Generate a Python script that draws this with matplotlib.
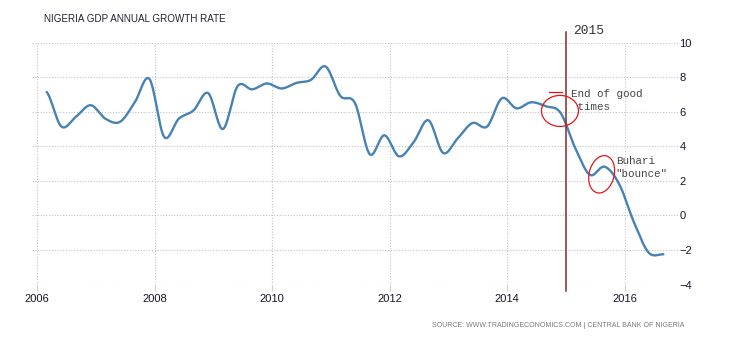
import numpy as np
import pandas as pd
import matplotlib
matplotlib.use("Agg")
import matplotlib.pyplot as plt
from matplotlib.patches import Ellipse
from matplotlib.transforms import ScaledTranslation

# Quarterly GDP growth, % y/y
quarters = pd.period_range("2006Q1", "2016Q3", freq="Q")
growth = [
    7.15, 5.15, 5.72, 6.38,
    5.60, 5.42, 6.55, 7.90,
    4.55, 5.60, 6.08, 7.08,
    5.00, 7.48, 7.30, 7.64,
    7.35, 7.67, 7.85, 8.62,
    6.92, 6.50, 3.55, 4.64,
    3.42, 4.25, 5.51, 3.62,
    4.47, 5.35, 5.15, 6.78,
    6.20, 6.55, 6.32, 5.94,
    3.90, 2.35, 2.82, 1.80,
    -0.40, -2.15, -2.25,
]
year_ticks = [2006, 2008, 2010, 2012, 2014, 2016]
value_ticks = [-4, -2, 0, 2, 4, 6, 8, 10]
marker_year = 2015

# each quarter sits in its middle month
xq = np.asarray(quarters.year + (quarters.quarter - 1) / 4 + 0.16, dtype=float)
yq = np.asarray(growth, dtype=float)


def spline(x, y, steps=24):
    # Catmull-Rom curve through every point, flat ends
    px = np.concatenate([[2 * x[0] - x[1]], x, [2 * x[-1] - x[-2]]])
    py = np.concatenate([[y[0]], y, [y[-1]]])
    t = np.linspace(0, 1, steps, endpoint=False)
    h00 = 2 * t**3 - 3 * t**2 + 1
    h10 = t**3 - 2 * t**2 + t
    h01 = -2 * t**3 + 3 * t**2
    h11 = t**3 - t**2
    xs, ys = [], []
    for i in range(1, len(px) - 2):
        for p, out in ((px, xs), (py, ys)):
            m0 = (p[i + 1] - p[i - 1]) / 2
            m1 = (p[i + 2] - p[i]) / 2
            out.append(h00 * p[i] + h10 * m0 + h01 * p[i + 1] + h11 * m1)
    xs.append([x[-1]]); ys.append([y[-1]])
    return np.concatenate(xs), np.concatenate(ys)


fig = plt.figure(figsize=(7.3, 3.4), dpi=100)
ax = fig.add_axes([0.0438, 0.1632, 0.885, 0.7112])

sx, sy = spline(xq, yq)
ax.plot(sx, sy, color="#4682b4", lw=1.7, solid_capstyle="round", zorder=3)

ax.set_xlim(2005.91, 2016.91)
ax.set_ylim(-4, 10)
ax.set_xticks(year_ticks)
ax.set_yticks(value_ticks)
ax.yaxis.tick_right()
ax.grid(True, color="#c4c4c4", lw=0.8, ls=(0, (1, 1.5)))
for s in ax.spines.values():
    s.set_visible(False)
ax.tick_params(axis="x", length=4, color="#d0d0d0", pad=3,
               labelsize=8, labelcolor="#15152a")
ax.tick_params(axis="y", length=0, pad=1, labelsize=8, labelcolor="#15152a")
for lab in ax.get_xticklabels() + ax.get_yticklabels():
    lab.set_fontfamily("Liberation Sans")

# 2015 marker line
ax.axvline(marker_year, ymin=-0.025, ymax=1.046, color="#862a2a", lw=1.1,
           clip_on=False, zorder=4)
ax.text(marker_year + 0.12, 1.048, str(marker_year), transform=ax.get_xaxis_transform(),
        fontfamily="Liberation Mono", fontsize=9.3, color="#333333",
        ha="left", va="center")

# hand-drawn style notes
mono = dict(fontfamily="Liberation Mono", fontsize=7.8, color="#444444",
            ha="left", va="top", linespacing=1.4)
ax.text(2015.08, 7.33, "End of good\n times", **mono)
ax.text(2015.85, 3.43, "Buhari\n\"bounce\"", **mono)


def ring(x, y, w, h, angle=0):
    tr = fig.dpi_scale_trans + ScaledTranslation(x, y, ax.transData)
    ax.add_patch(Ellipse((0, 0), w, h, angle=angle, transform=tr, fill=False,
                         ec="#e8141c", lw=0.9, zorder=5, clip_on=False))


ring(2014.90, 6.05, 0.37, 0.31)
ax.plot([2014.72, 2014.94], [7.12, 7.12], color="#e8141c", lw=0.9, zorder=5)
ring(2015.61, 2.38, 0.25, 0.38, angle=-14)

fig.text(0.0605, 0.944, "NIGERIA GDP ANNUAL GROWTH RATE", fontfamily="Liberation Sans",
         fontsize=7.1, color="#222233", ha="left", va="center")
fig.text(0.937, 0.042, "SOURCE: WWW.TRADINGECONOMICS.COM | CENTRAL BANK OF NIGERIA",
         fontfamily="Liberation Sans", fontsize=5.05, color="#7a7a7a",
         ha="right", va="center")

fig.savefig("out.png", dpi=100, facecolor="white")
